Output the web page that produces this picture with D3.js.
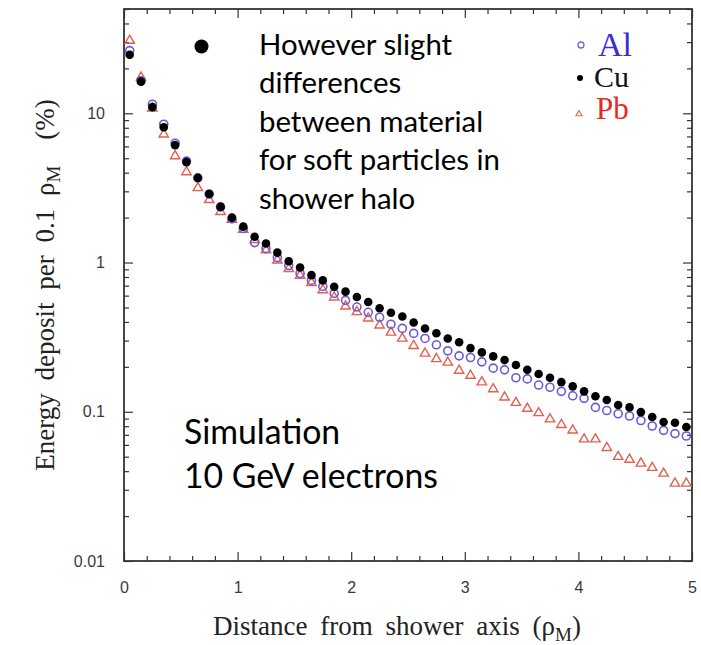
<!DOCTYPE html>
<html>
<head>
<meta charset="utf-8">
<script src="https://cdn.jsdelivr.net/npm/d3@7/dist/d3.min.js"></script>
<style>
  html, body { margin: 0; padding: 0; background: #ffffff; }
  svg { display: block; }
</style>
</head>
<body>
<svg id="chart" width="701" height="645"></svg>
<script>
// Radial distance bins (centres, in Molière radii)
const xBins = [0.05, 0.15, 0.25, 0.35, 0.45, 0.55, 0.65, 0.75, 0.85, 0.95,
               1.05, 1.15, 1.25, 1.35, 1.45, 1.55, 1.65, 1.75, 1.85, 1.95,
               2.05, 2.15, 2.25, 2.35, 2.45, 2.55, 2.65, 2.75, 2.85, 2.95,
               3.05, 3.15, 3.25, 3.35, 3.45, 3.55, 3.65, 3.75, 3.85, 3.95,
               4.05, 4.15, 4.25, 4.35, 4.45, 4.55, 4.65, 4.75, 4.85, 4.95];

// Energy deposit per 0.1 rho_M (%) for each absorber
const alValues = [26.3, 16.5, 11.5, 8.45, 6.3, 4.78, 3.69, 2.88, 2.36, 1.96,
                  1.69, 1.36, 1.24, 1.08, 0.955, 0.845, 0.759, 0.692, 0.621, 0.558,
                  0.503, 0.464, 0.430, 0.386, 0.362, 0.335, 0.310, 0.281, 0.256, 0.237,
                  0.231, 0.216, 0.196, 0.191, 0.169, 0.166, 0.151, 0.146, 0.137, 0.128,
                  0.123, 0.107, 0.102, 0.097, 0.0937, 0.0874, 0.0803, 0.0751, 0.0714, 0.0688];
const cuValues = [24.7, 16.3, 11.0, 8.07, 6.12, 4.71, 3.69, 2.88, 2.36, 2.0,
                  1.74, 1.49, 1.34, 1.166, 1.02, 0.926, 0.823, 0.759, 0.689, 0.638,
                  0.587, 0.544, 0.494, 0.461, 0.435, 0.396, 0.361, 0.336, 0.310, 0.292,
                  0.267, 0.250, 0.235, 0.222, 0.206, 0.191, 0.179, 0.169, 0.158, 0.148,
                  0.137, 0.127, 0.120, 0.111, 0.107, 0.0995, 0.0922, 0.0854, 0.0845, 0.0791];
const pbValues = [30.7, 17.4, 10.8, 7.24, 5.17, 4.04, 3.16, 2.63, 2.19, 1.94,
                  1.66, 1.42, 1.21, 1.036, 0.908, 0.819, 0.732, 0.654, 0.585, 0.509,
                  0.467, 0.423, 0.380, 0.340, 0.310, 0.277, 0.246, 0.226, 0.214, 0.189,
                  0.175, 0.158, 0.142, 0.125, 0.115, 0.105, 0.0982, 0.0892, 0.0818, 0.0752,
                  0.0655, 0.0655, 0.0574, 0.0500, 0.0479, 0.0451, 0.0422, 0.0386, 0.0331, 0.0331];

const xTickValues = [0, 1, 2, 3, 4, 5];
const xTickLabels = ["0", "1", "2", "3", "4", "5"];
const yTickValues = [0.01, 0.1, 1, 10];
const yTickLabels = ["0.01", "0.1", "1", "10"];

const noteLines = ["However slight", "differences", "between material",
                   "for soft particles in", "shower halo"];
const simLines = ["Simulation", "10 GeV electrons"];

const svg = d3.select("#chart");
const plot = { left: 124, right: 692, top: 9, bottom: 561 };

const x = d3.scaleLinear().domain([0, 5]).range([plot.left, plot.right]);
const y = d3.scaleLog().domain([0.01, 50]).range([plot.bottom, plot.top]);

const axisColor = "#333";
const tickFont = "'Liberation Sans', Arial, sans-serif";
const serif = "'Liberation Serif', 'Times New Roman', serif";

// minor tick positions
const xMinor = d3.range(0, 5.0001, 0.2).map(v => +v.toFixed(2)).filter(v => Math.abs(v - Math.round(v)) > 1e-6);
const yMinor = [];
[0.01, 0.1, 1, 10].forEach(d => { for (let k = 2; k <= 9; k++) { const v = d * k; if (v <= 50) yMinor.push(v); } });

function styleAxis(g) {
  g.select(".domain").remove();
  g.selectAll(".tick line").attr("stroke", axisColor).attr("stroke-width", 1.2);
  g.selectAll(".tick text").attr("fill", "#3a3a3a").style("font-family", tickFont).style("font-size", "16px");
}

// bottom axis (ticks pointing inward)
svg.append("g").attr("transform", `translate(0,${plot.bottom})`)
  .call(d3.axisBottom(x).tickValues(xTickValues).tickSize(-9).tickPadding(21)
    .tickFormat((d, i) => xTickLabels[i]))
  .call(styleAxis);
svg.append("g").attr("transform", `translate(0,${plot.bottom})`)
  .call(d3.axisBottom(x).tickValues(xMinor).tickSize(-5).tickFormat(""))
  .call(styleAxis);
// top axis
svg.append("g").attr("transform", `translate(0,${plot.top})`)
  .call(d3.axisTop(x).tickValues(xTickValues).tickSize(-9).tickFormat(""))
  .call(styleAxis);
svg.append("g").attr("transform", `translate(0,${plot.top})`)
  .call(d3.axisTop(x).tickValues(xMinor).tickSize(-5).tickFormat(""))
  .call(styleAxis);
// left axis
svg.append("g").attr("transform", `translate(${plot.left},0)`)
  .call(d3.axisLeft(y).tickValues(yTickValues).tickSize(-9).tickPadding(19)
    .tickFormat((d, i) => yTickLabels[i]))
  .call(styleAxis);
svg.append("g").attr("transform", `translate(${plot.left},0)`)
  .call(d3.axisLeft(y).tickValues(yMinor).tickSize(-5).tickFormat(""))
  .call(styleAxis);
// right axis
svg.append("g").attr("transform", `translate(${plot.right},0)`)
  .call(d3.axisRight(y).tickValues(yTickValues).tickSize(-9).tickFormat(""))
  .call(styleAxis);
svg.append("g").attr("transform", `translate(${plot.right},0)`)
  .call(d3.axisRight(y).tickValues(yMinor).tickSize(-5).tickFormat(""))
  .call(styleAxis);

// frame
svg.append("rect")
  .attr("x", plot.left).attr("y", plot.top)
  .attr("width", plot.right - plot.left).attr("height", plot.bottom - plot.top)
  .attr("fill", "none").attr("stroke", axisColor).attr("stroke-width", 1.8);

// data markers
const triangle = d3.symbol().type(d3.symbolTriangle).size(38);
svg.append("g").selectAll("path").data(xBins)
  .join("path")
  .attr("d", triangle)
  .attr("transform", (d, i) => `translate(${x(d)},${y(pbValues[i])})`)
  .attr("fill", "none").attr("stroke", "#e2604f").attr("stroke-width", 1.4);

svg.append("g").selectAll("circle").data(xBins)
  .join("circle")
  .attr("cx", d => x(d)).attr("cy", (d, i) => y(alValues[i])).attr("r", 4)
  .attr("fill", "none").attr("stroke", "#6f58d8").attr("stroke-width", 1.6);

svg.append("g").selectAll("circle").data(xBins)
  .join("circle")
  .attr("cx", d => x(d)).attr("cy", (d, i) => y(cuValues[i])).attr("r", 4.3)
  .attr("fill", "#000");

// legend
const legend = svg.append("g");
legend.append("circle").attr("cx", 581).attr("cy", 45).attr("r", 3)
  .attr("fill", "none").attr("stroke", "#7a66d6").attr("stroke-width", 1.3);
legend.append("text").attr("x", 598).attr("y", 56).text("Al")
  .attr("fill", "#3a2fd2").style("font-family", serif).style("font-size", "34px");
legend.append("circle").attr("cx", 580).attr("cy", 78).attr("r", 3).attr("fill", "#000");
legend.append("text").attr("x", 594).attr("y", 87).text("Cu")
  .attr("fill", "#111").style("font-family", serif).style("font-size", "30px");
legend.append("path").attr("d", d3.symbol().type(d3.symbolTriangle).size(16)())
  .attr("transform", "translate(579,114)")
  .attr("fill", "none").attr("stroke", "#e07060").attr("stroke-width", 1.2);
legend.append("text").attr("x", 596).attr("y", 119).text("Pb")
  .attr("fill", "#e42a22").style("font-family", serif).style("font-size", "31px");

// annotation with bullet
const noteFont = "Lato, 'Open Sans', sans-serif";
svg.append("circle").attr("cx", 201.5).attr("cy", 46.5).attr("r", 7).attr("fill", "#000");
const note = svg.append("g");
note.selectAll("text").data(noteLines).join("text")
  .attr("x", 259).attr("y", (d, i) => 55 + i * 38.4)
  .text(d => d).attr("fill", "#000")
  .style("font-family", noteFont).style("font-size", "30px");
// fit the block width to the widest line
{
  const nodes = note.selectAll("text").nodes();
  const w = d3.max(nodes, n => n.getComputedTextLength());
  const fs = 30 * 241 / w;
  note.selectAll("text").style("font-size", fs + "px");
}

const sim = svg.append("g");
sim.selectAll("text").data(simLines).join("text")
  .attr("x", 184).attr("y", (d, i) => 444 + i * 44)
  .text(d => d).attr("fill", "#000")
  .style("font-family", noteFont).style("font-size", "35px");
{
  const nodes = sim.selectAll("text").nodes();
  const w = d3.max(nodes, n => n.getComputedTextLength());
  const fs = 35 * 254 / w;
  sim.selectAll("text").style("font-size", fs + "px");
}

// axis titles
const xTitle = svg.append("text")
  .attr("x", 397).attr("y", 635)
  .attr("text-anchor", "middle")
  .attr("fill", "#222")
  .style("font-family", serif).style("font-size", "27px")
  .style("word-spacing", "6px");
xTitle.append("tspan").text("Distance from shower axis (\u03c1");
xTitle.append("tspan").text("M").attr("dy", 6).style("font-size", "19px");
xTitle.append("tspan").text(")").attr("dy", -6);

const yTitle = svg.append("text")
  .attr("transform", "translate(54,285) rotate(-90)")
  .attr("text-anchor", "middle")
  .attr("fill", "#222")
  .style("font-family", serif).style("font-size", "27px")
  .style("word-spacing", "6px");
yTitle.append("tspan").text("Energy deposit per 0.1 \u03c1");
yTitle.append("tspan").text("M").attr("dy", 6).style("font-size", "19px");
yTitle.append("tspan").text("(%)").attr("dy", -6).attr("dx", 26);
</script>
</body>
</html>
